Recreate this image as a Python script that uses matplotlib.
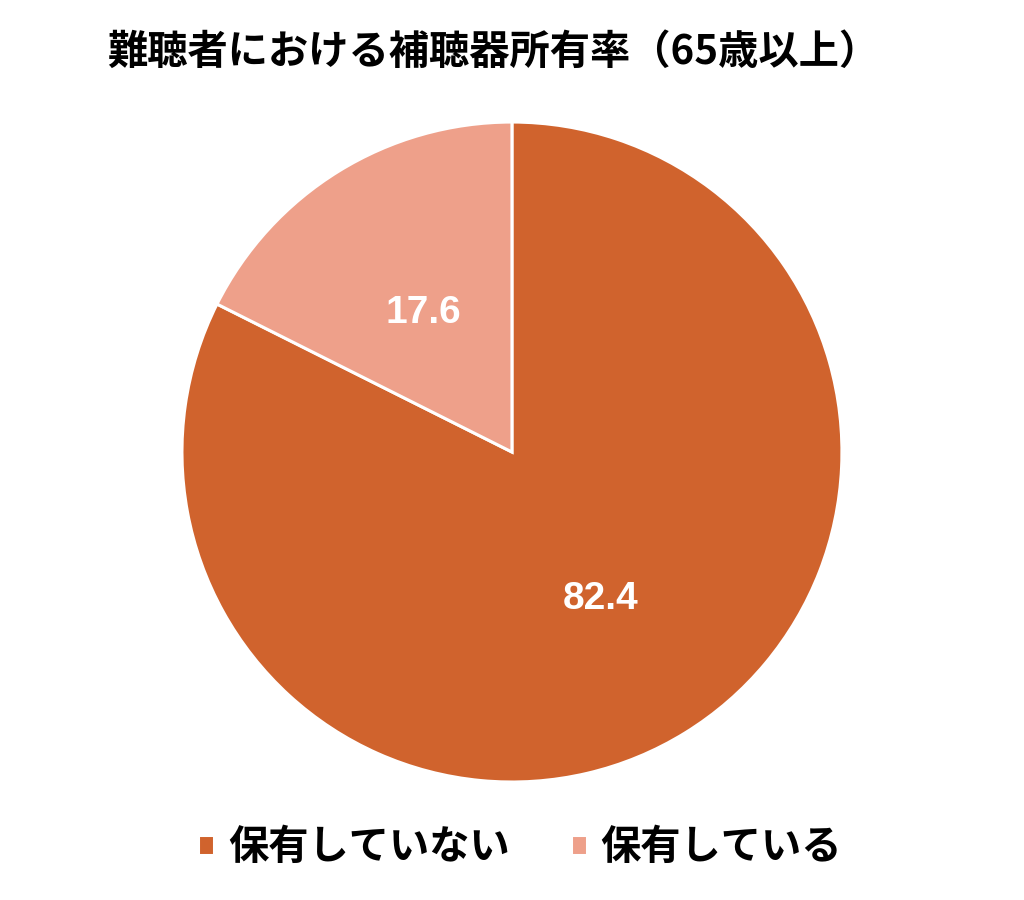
import matplotlib.pyplot as plt

plt.rcParams['font.family'] = ['Noto Sans CJK JP', 'DejaVu Sans']

# data
title = '難聴者における補聴器所有率（65歳以上）'
labels = ['保有していない', '保有している']
values = [82.4, 17.6]
colors = ['#D0632D', '#EEA08A']

fig = plt.figure(figsize=(10.24, 9), dpi=100)
ax = fig.add_axes([0.1777, 0.1311, 0.6445, 0.7333])

wedges, texts = ax.pie(values, colors=colors, startangle=90, counterclock=False,
                       labels=[f'{v:.1f}' for v in values], labeldistance=0.51,
                       wedgeprops=dict(edgecolor='white', linewidth=2.2),
                       textprops=dict(color='white', fontsize=28, fontweight='bold',
                                      family=['Liberation Sans', 'DejaVu Sans']))
for t in texts:
    t.set_horizontalalignment('center')
    t.set_verticalalignment('center_baseline')
ax.set_xlim(-1, 1)
ax.set_ylim(-1, 1)
ax.set_aspect('equal')

fig.text(0.105, 0.942, title, fontsize=29, fontweight='bold', ha='left', va='center')

fig.legend(wedges, labels, loc='center', bbox_to_anchor=(0.508, 0.058), ncol=2,
           frameon=False, handlelength=0.4, handleheight=0.4, handletextpad=0.35,
           columnspacing=1.5, prop=dict(size=29, weight='bold'))

fig.savefig('out.png', dpi=100)
